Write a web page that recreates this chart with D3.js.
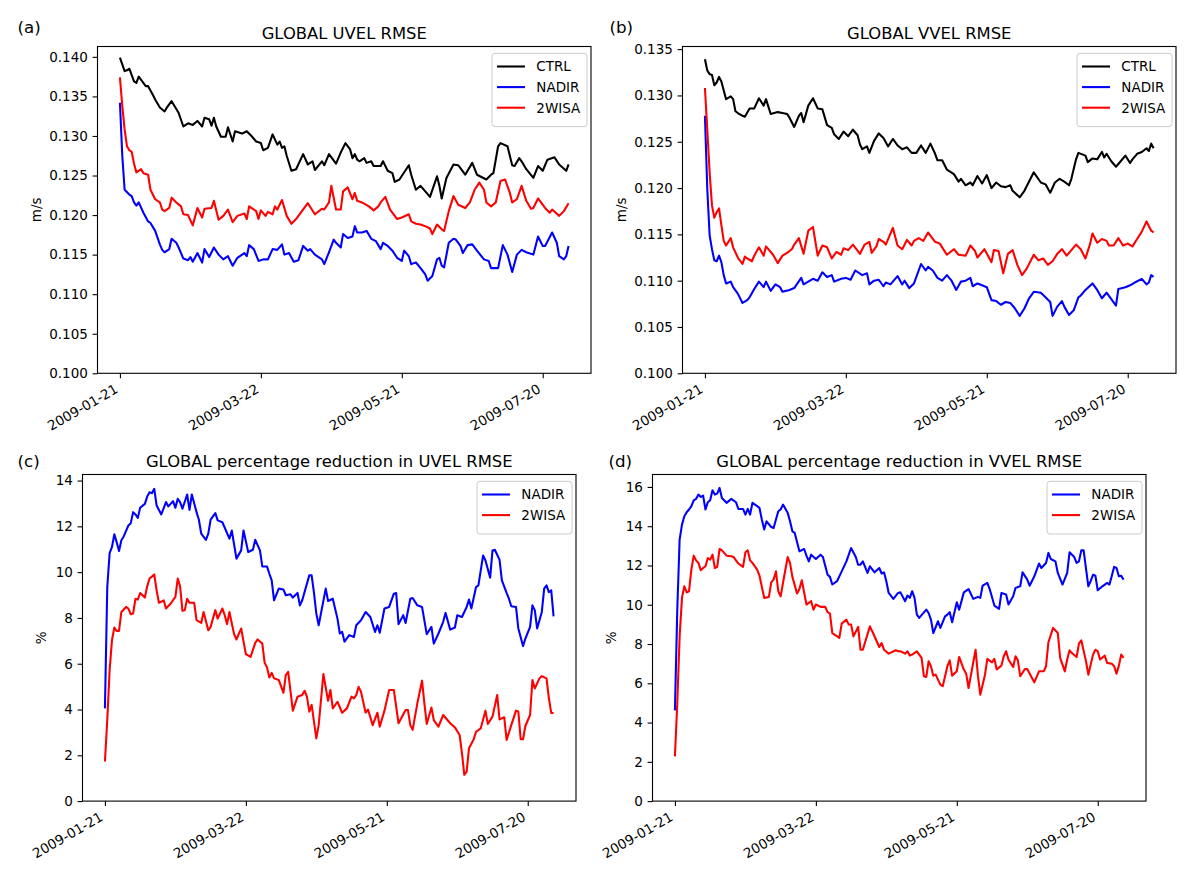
<!DOCTYPE html>
<html>
<head>
<meta charset="utf-8">
<script src="https://cdn.jsdelivr.net/npm/d3@7"></script>
<style>
  body { margin: 0; background: #fff; }
  svg text { font-family: "DejaVu Sans", sans-serif; fill: #000; }
</style>
</head>
<body>
<div id="chart"></div>
<script>
// series are [days after startDate, value]
var startDate = "2009-01-21";
var tickDates = ["2009-01-21", "2009-03-22", "2009-05-21", "2009-07-20"];

var uvelCtrl = [[0,0.1399],[2,0.1382],[3,0.1383],[4,0.1385],[6,0.1369],[7,0.1367],[8,0.1375],[11,0.1363],[12,0.1363],[14,0.1352],[15,0.1346],[17,0.1336],[19,0.1331],[20,0.1336],[22,0.1344],[24,0.1334],[25,0.1329],[27,0.1312],[29,0.1316],[31,0.1314],[33,0.1319],[35,0.1312],[36,0.1323],[38,0.1321],[39,0.1313],[40,0.1323],[41,0.1312],[43,0.1299],[45,0.1299],[46,0.1311],[48,0.1293],[49,0.1306],[52,0.1303],[54,0.1306],[56,0.1300],[58,0.1293],[60,0.1291],[61,0.1282],[63,0.1285],[65,0.1302],[67,0.1289],[68,0.1293],[69,0.1285],[70,0.1287],[71,0.1275],[73,0.1256],[75,0.1258],[78,0.1277],[80,0.1264],[82,0.1268],[83,0.1257],[86,0.1268],[87,0.1263],[89,0.1277],[92,0.1265],[94,0.1279],[96,0.1291],[98,0.1283],[99,0.1272],[100,0.1277],[101,0.1270],[102,0.1268],[104,0.1272],[105,0.1266],[107,0.1268],[108,0.1262],[111,0.1262],[112,0.1268],[114,0.1256],[116,0.1253],[117,0.1242],[119,0.1245],[123,0.1263],[124,0.1251],[126,0.1232],[128,0.1237],[130,0.1230],[132,0.1223],[135,0.1249],[136,0.1237],[137,0.1221],[139,0.1247],[142,0.1264],[144,0.1263],[147,0.1251],[148,0.1256],[150,0.1266],[152,0.1251],[156,0.1245],[158,0.1251],[159,0.1253],[161,0.1287],[162,0.1291],[165,0.1287],[167,0.1263],[168,0.1262],[170,0.1272],[171,0.1268],[173,0.1258],[176,0.1247],[178,0.1262],[180,0.1256],[182,0.1270],[185,0.1273],[187,0.1264],[190,0.1256],[191,0.1264]];

var uvelNadir = [[0,0.1342],[1,0.1275],[2,0.1232],[4,0.1226],[5,0.1224],[6,0.1216],[7,0.1212],[8,0.1216],[10,0.1203],[12,0.1192],[13,0.1190],[15,0.1180],[17,0.1163],[18,0.1156],[19,0.1153],[21,0.1157],[22,0.1170],[24,0.1165],[25,0.1159],[27,0.1145],[29,0.1143],[30,0.1147],[31,0.1141],[33,0.1152],[35,0.1140],[36,0.1157],[38,0.1147],[40,0.1159],[42,0.1150],[44,0.1144],[46,0.1148],[48,0.1136],[50,0.1146],[53,0.1152],[54,0.1148],[55,0.1162],[57,0.1157],[59,0.1142],[61,0.1144],[63,0.1144],[65,0.1157],[67,0.1156],[69,0.1163],[70,0.1150],[72,0.1152],[74,0.1141],[76,0.1143],[78,0.1161],[80,0.1155],[81,0.1157],[83,0.1150],[86,0.1144],[87,0.1138],[89,0.1153],[91,0.1169],[92,0.1165],[94,0.1159],[95,0.1176],[97,0.1171],[99,0.1173],[100,0.1186],[101,0.1178],[103,0.1178],[105,0.1180],[107,0.1170],[109,0.1167],[111,0.1157],[112,0.1165],[114,0.1161],[116,0.1155],[118,0.1146],[120,0.1142],[121,0.1155],[123,0.1148],[124,0.1138],[126,0.1140],[128,0.1133],[130,0.1125],[131,0.1117],[133,0.1123],[135,0.1144],[136,0.1146],[137,0.1136],[138,0.1134],[140,0.1165],[142,0.1170],[143,0.1169],[145,0.1161],[146,0.1152],[148,0.1162],[150,0.1163],[152,0.1155],[155,0.1144],[157,0.1142],[158,0.1133],[161,0.1133],[163,0.1162],[165,0.1150],[167,0.1128],[169,0.1150],[171,0.1156],[173,0.1153],[176,0.1150],[178,0.1173],[180,0.1161],[181,0.1161],[184,0.1178],[186,0.1165],[187,0.1148],[189,0.1144],[190,0.1148],[191,0.1161]];

var uvel2wisa = [[0,0.1374],[1,0.1338],[2,0.1308],[3,0.1287],[4,0.1282],[5,0.1280],[6,0.1265],[7,0.1254],[9,0.1258],[10,0.1253],[12,0.1251],[13,0.1232],[15,0.1220],[17,0.1216],[18,0.1207],[19,0.1205],[21,0.1209],[22,0.1222],[24,0.1216],[26,0.1211],[27,0.1201],[29,0.1200],[31,0.1187],[33,0.1209],[35,0.1197],[36,0.1208],[39,0.1209],[40,0.1218],[42,0.1194],[44,0.1199],[46,0.1207],[48,0.1191],[50,0.1199],[53,0.1202],[54,0.1195],[55,0.1211],[58,0.1205],[59,0.1195],[60,0.1206],[62,0.1199],[63,0.1204],[65,0.1201],[66,0.1211],[67,0.1207],[69,0.1219],[71,0.1199],[73,0.1189],[75,0.1195],[77,0.1203],[80,0.1215],[83,0.1201],[86,0.1208],[87,0.1207],[89,0.1216],[90,0.1237],[92,0.1207],[94,0.1207],[95,0.1230],[97,0.1235],[99,0.1220],[100,0.1228],[101,0.1218],[103,0.1216],[106,0.1211],[108,0.1206],[110,0.1211],[111,0.1216],[113,0.1223],[115,0.1207],[117,0.1199],[118,0.1195],[120,0.1197],[123,0.1201],[124,0.1192],[126,0.1189],[128,0.1188],[130,0.1186],[132,0.1183],[133,0.1176],[135,0.1188],[137,0.1182],[138,0.1180],[140,0.1205],[142,0.1224],[144,0.1213],[147,0.1209],[149,0.1216],[151,0.1232],[153,0.1241],[155,0.1232],[156,0.1216],[158,0.1211],[160,0.1216],[162,0.1243],[164,0.1245],[166,0.1228],[167,0.1216],[169,0.1220],[171,0.1237],[173,0.1218],[175,0.1208],[176,0.1209],[178,0.1221],[181,0.1209],[183,0.1203],[184,0.1207],[187,0.1199],[189,0.1205],[191,0.1215]];

var vvelCtrl = [[0,0.1339],[1,0.1327],[2,0.1323],[3,0.1322],[4,0.1311],[5,0.1314],[6,0.1320],[7,0.1315],[9,0.1296],[11,0.1299],[12,0.1296],[13,0.1283],[14,0.1281],[16,0.1278],[17,0.1277],[19,0.1286],[21,0.1286],[23,0.1297],[25,0.1289],[26,0.1296],[28,0.1280],[31,0.1282],[33,0.1281],[35,0.1280],[36,0.1276],[38,0.1266],[40,0.1278],[41,0.1281],[42,0.1271],[44,0.1289],[46,0.1297],[48,0.1286],[50,0.1285],[52,0.1268],[54,0.1265],[55,0.1258],[57,0.1253],[59,0.1261],[61,0.1256],[63,0.1263],[65,0.1257],[66,0.1247],[67,0.1242],[69,0.1245],[70,0.1238],[72,0.1251],[74,0.1259],[76,0.1254],[78,0.1245],[80,0.1253],[82,0.1246],[84,0.1242],[86,0.1244],[88,0.1238],[90,0.1238],[92,0.1246],[94,0.1238],[96,0.1248],[98,0.1237],[99,0.1230],[101,0.1230],[103,0.1220],[106,0.1215],[108,0.1207],[109,0.1210],[111,0.1203],[113,0.1206],[114,0.1203],[116,0.1213],[118,0.1205],[120,0.1214],[122,0.1200],[124,0.1206],[126,0.1202],[128,0.1201],[130,0.1203],[131,0.1197],[134,0.1190],[136,0.1197],[138,0.1207],[140,0.1217],[143,0.1206],[145,0.1204],[147,0.1195],[149,0.1206],[151,0.1210],[153,0.1207],[155,0.1203],[156,0.1210],[158,0.1231],[159,0.1238],[162,0.1235],[163,0.1228],[165,0.1232],[167,0.1231],[169,0.1239],[170,0.1233],[171,0.1237],[173,0.1229],[175,0.1223],[177,0.1229],[179,0.1235],[181,0.1227],[182,0.1231],[184,0.1237],[186,0.1239],[188,0.1243],[189,0.1240],[190,0.1248],[191,0.1243]];

var vvelNadir = [[0,0.1278],[1,0.1199],[2,0.1149],[3,0.1134],[4,0.1122],[5,0.1121],[6,0.1127],[7,0.1120],[8,0.1106],[9,0.1097],[11,0.1099],[12,0.1093],[14,0.1086],[16,0.1076],[18,0.1079],[19,0.1082],[21,0.1091],[23,0.1099],[25,0.1093],[26,0.1099],[28,0.1089],[30,0.1096],[32,0.1093],[33,0.1088],[36,0.1090],[38,0.1092],[41,0.1103],[42,0.1096],[44,0.1099],[46,0.1102],[48,0.1100],[50,0.1109],[52,0.1104],[54,0.1106],[55,0.1099],[58,0.1102],[60,0.1103],[62,0.1101],[64,0.1111],[67,0.1106],[69,0.1108],[70,0.1096],[72,0.1100],[74,0.1101],[76,0.1094],[77,0.1098],[79,0.1096],[82,0.1105],[84,0.1096],[85,0.1100],[87,0.1092],[89,0.1097],[92,0.1118],[94,0.1111],[95,0.1115],[97,0.1111],[99,0.1103],[101,0.1100],[103,0.1106],[105,0.1100],[107,0.1090],[109,0.1099],[111,0.1100],[113,0.1103],[114,0.1094],[116,0.1097],[118,0.1095],[120,0.1093],[122,0.1079],[124,0.1078],[126,0.1074],[128,0.1077],[130,0.1076],[132,0.1070],[134,0.1062],[136,0.1070],[138,0.1081],[140,0.1088],[143,0.1087],[145,0.1082],[147,0.1077],[148,0.1062],[150,0.1072],[152,0.1078],[153,0.1072],[155,0.1063],[157,0.1068],[159,0.1082],[160,0.1084],[162,0.1090],[165,0.1097],[167,0.1090],[169,0.1081],[171,0.1087],[173,0.1080],[175,0.1073],[176,0.1091],[179,0.1093],[181,0.1095],[183,0.1098],[186,0.1102],[188,0.1096],[189,0.1098],[190,0.1106],[191,0.1104]];

var vvel2wisa = [[0,0.1308],[1,0.1263],[2,0.1217],[3,0.1181],[4,0.1168],[5,0.1174],[6,0.1178],[7,0.1160],[8,0.1143],[9,0.1138],[11,0.1146],[12,0.1136],[14,0.1125],[16,0.1118],[17,0.1126],[18,0.1124],[20,0.1121],[21,0.1127],[23,0.1136],[25,0.1127],[26,0.1137],[27,0.1134],[29,0.1128],[31,0.1119],[33,0.1127],[35,0.1130],[37,0.1134],[38,0.1139],[40,0.1146],[42,0.1129],[44,0.1154],[46,0.1158],[48,0.1127],[50,0.1138],[52,0.1136],[54,0.1124],[56,0.1131],[58,0.1128],[59,0.1135],[61,0.1133],[63,0.1139],[66,0.1129],[68,0.1139],[70,0.1142],[71,0.1130],[73,0.1137],[74,0.1145],[76,0.1142],[77,0.1139],[80,0.1157],[82,0.1138],[84,0.1134],[86,0.1144],[88,0.1138],[89,0.1143],[91,0.1146],[93,0.1143],[95,0.1152],[98,0.1142],[100,0.1140],[101,0.1136],[103,0.1128],[106,0.1134],[108,0.1128],[111,0.1127],[113,0.1138],[115,0.1132],[116,0.1125],[119,0.1134],[122,0.1120],[123,0.1133],[125,0.1132],[127,0.1108],[129,0.1129],[131,0.1133],[133,0.1117],[135,0.1106],[137,0.1113],[140,0.1128],[142,0.1122],[144,0.1124],[146,0.1117],[148,0.1121],[150,0.1129],[152,0.1134],[154,0.1127],[157,0.1136],[158,0.1139],[160,0.1134],[162,0.1124],[164,0.1140],[165,0.1151],[167,0.1141],[169,0.1145],[171,0.1143],[172,0.1138],[174,0.1138],[176,0.1146],[178,0.1138],[180,0.1140],[182,0.1137],[184,0.1145],[186,0.1153],[188,0.1164],[190,0.1154],[191,0.1152]];

var pctUNadir = [[0,4.05],[1,9.35],[2,10.83],[3,11.10],[4,11.65],[5,11.31],[6,10.92],[7,11.39],[8,11.56],[10,12.04],[11,12.14],[12,12.62],[13,12.52],[14,12.37],[15,12.81],[17,12.98],[18,13.30],[19,13.49],[20,13.45],[21,13.64],[22,12.91],[24,12.52],[26,13.06],[27,12.87],[29,13.10],[30,12.81],[31,13.20],[32,13.06],[33,12.77],[35,13.39],[36,12.72],[37,13.39],[39,12.62],[40,12.29],[41,11.68],[43,11.41],[44,11.68],[45,12.29],[47,12.58],[48,12.26],[50,12.18],[53,11.46],[54,11.82],[56,10.59],[58,10.95],[59,11.82],[61,10.88],[63,10.98],[64,11.41],[66,10.95],[67,10.25],[69,10.25],[70,9.93],[71,9.64],[72,8.77],[74,9.28],[76,9.24],[77,8.99],[79,9.03],[80,8.89],[82,9.09],[83,8.55],[84,8.77],[87,9.86],[88,9.86],[89,9.09],[90,8.19],[91,7.68],[94,9.28],[95,8.74],[97,8.84],[99,7.97],[100,7.32],[101,7.39],[102,6.96],[104,7.25],[106,7.17],[107,7.68],[109,7.90],[111,8.26],[113,8.04],[115,7.39],[116,7.68],[117,7.35],[119,8.41],[121,8.48],[123,9.06],[124,9.09],[125,7.73],[127,8.12],[128,7.78],[130,8.84],[131,8.87],[133,8.55],[135,8.48],[137,7.29],[139,7.61],[140,6.88],[142,7.32],[144,7.83],[145,8.22],[147,7.49],[149,7.58],[150,8.12],[152,8.04],[154,8.48],[155,8.80],[156,8.41],[158,9.35],[159,9.42],[161,10.73],[162,10.51],[164,9.76],[165,10.95],[166,10.98],[168,10.54],[169,9.64],[171,9.09],[172,8.84],[173,8.51],[175,8.48],[176,7.54],[178,6.77],[179,7.10],[181,7.61],[182,8.55],[183,8.34],[184,7.54],[186,8.26],[187,9.28],[188,9.42],[189,9.13],[190,9.21],[191,8.07]];

var pctU2wisa = [[0,1.73],[1,3.54],[2,5.72],[3,7.03],[4,7.58],[5,7.43],[6,7.43],[7,8.26],[9,8.48],[10,8.41],[11,8.16],[12,8.19],[13,8.84],[14,8.80],[15,9.09],[17,8.89],[18,9.38],[19,9.72],[21,9.90],[22,9.21],[23,8.66],[25,8.77],[26,8.41],[28,8.63],[30,8.92],[31,9.72],[32,9.38],[33,8.31],[34,8.34],[35,8.84],[36,8.66],[38,8.66],[39,7.90],[41,7.78],[42,8.26],[44,7.46],[45,7.61],[47,8.34],[48,7.97],[50,8.41],[51,8.12],[52,7.73],[53,8.26],[55,7.29],[56,7.06],[58,7.54],[60,6.42],[62,6.30],[64,6.91],[65,7.06],[67,6.88],[68,6.04],[69,5.84],[70,5.40],[71,5.60],[72,5.36],[74,5.29],[76,4.73],[77,5.50],[78,5.65],[80,3.95],[82,4.56],[84,4.63],[85,4.82],[86,4.56],[87,3.91],[88,4.20],[90,2.74],[91,3.32],[93,5.55],[95,4.38],[96,4.85],[97,4.05],[99,4.34],[101,3.86],[103,4.05],[105,4.56],[106,4.49],[107,4.63],[108,4.99],[109,4.78],[111,3.86],[112,4.00],[114,3.32],[116,3.86],[117,3.25],[119,3.95],[121,4.85],[123,4.85],[125,3.40],[128,3.98],[129,3.98],[130,3.32],[131,3.11],[133,4.27],[135,5.26],[136,4.27],[137,3.37],[139,4.09],[140,3.54],[142,3.25],[144,3.76],[147,3.40],[149,3.22],[151,2.89],[152,2.09],[153,1.15],[154,1.29],[155,2.31],[157,2.70],[158,3.03],[160,3.18],[162,3.95],[163,3.37],[165,3.69],[167,4.63],[168,3.57],[170,3.66],[171,2.67],[173,3.32],[175,3.95],[176,3.91],[177,2.70],[178,2.70],[179,3.28],[181,3.76],[182,5.29],[183,4.92],[185,5.36],[186,5.46],[188,5.36],[189,4.50],[190,3.85],[191,3.85]];

var pctVNadir = [[0,4.62],[1,9.75],[2,13.32],[3,14.08],[4,14.51],[5,14.71],[6,14.85],[7,15.02],[8,15.32],[9,15.39],[10,15.61],[11,15.49],[12,15.56],[13,14.85],[14,15.22],[15,15.32],[16,15.83],[17,15.61],[18,15.66],[19,15.95],[20,15.44],[22,15.19],[24,15.39],[26,15.22],[27,14.88],[29,14.88],[30,14.59],[31,14.88],[32,14.59],[33,15.19],[35,15.02],[36,14.93],[37,14.34],[38,13.83],[39,14.25],[41,13.96],[42,13.91],[44,14.76],[45,14.85],[46,15.10],[48,14.68],[49,14.25],[50,13.74],[51,13.66],[53,12.72],[55,12.84],[56,12.50],[57,12.21],[58,12.55],[60,12.33],[62,12.55],[63,12.43],[65,11.53],[66,11.42],[67,11.03],[69,11.20],[71,11.70],[73,12.21],[75,12.89],[77,12.43],[78,12.04],[79,12.04],[80,12.21],[82,11.62],[83,11.96],[85,11.65],[87,11.87],[88,11.59],[89,11.65],[90,11.20],[91,10.60],[93,10.30],[95,10.60],[96,10.63],[98,10.18],[99,10.47],[100,10.35],[101,10.69],[102,10.35],[103,9.50],[104,9.33],[107,9.75],[108,9.58],[109,9.24],[110,8.56],[112,9.16],[113,8.82],[115,9.41],[116,9.50],[117,9.62],[118,9.11],[120,10.13],[121,9.75],[123,10.63],[125,10.80],[127,10.30],[129,10.40],[130,10.35],[131,10.97],[133,11.11],[134,10.80],[136,9.96],[138,9.79],[139,10.60],[141,10.52],[142,10.01],[144,10.43],[145,10.86],[147,10.94],[148,11.65],[150,11.28],[151,10.97],[153,11.45],[155,12.10],[156,11.87],[158,12.13],[159,12.64],[160,12.33],[162,12.21],[163,11.62],[165,11.03],[167,11.62],[168,12.67],[170,12.43],[171,12.13],[172,12.21],[173,12.77],[174,12.77],[176,10.94],[177,11.20],[178,11.53],[179,11.48],[180,10.74],[182,10.94],[184,11.11],[185,11.03],[186,11.48],[187,11.93],[188,11.87],[189,11.45],[190,11.48],[191,11.28]];

var pctV2wisa = [[0,2.28],[1,5.00],[2,8.39],[3,10.35],[4,10.94],[5,10.63],[6,10.69],[7,11.79],[8,12.50],[9,12.26],[10,12.13],[11,11.76],[12,11.87],[13,11.96],[14,12.38],[15,12.30],[16,12.55],[17,11.87],[18,11.93],[19,12.84],[20,12.77],[22,12.50],[24,12.47],[25,12.43],[27,12.10],[29,11.93],[30,12.67],[31,12.77],[32,12.26],[33,12.13],[35,11.79],[36,11.48],[38,10.35],[40,10.40],[41,11.14],[42,11.28],[43,11.70],[44,10.69],[45,10.43],[46,11.11],[48,12.43],[49,12.13],[50,11.42],[52,10.57],[53,10.80],[54,11.25],[56,10.01],[58,10.18],[59,9.75],[60,10.01],[62,9.89],[64,9.89],[65,9.62],[66,9.55],[67,8.56],[70,8.31],[71,9.04],[73,9.24],[74,8.99],[75,8.99],[76,8.39],[78,8.87],[79,7.71],[80,7.71],[83,8.90],[84,8.65],[87,7.85],[88,8.05],[89,7.71],[91,7.51],[94,7.68],[95,7.63],[96,7.63],[98,7.51],[99,7.63],[100,7.41],[101,7.46],[103,7.63],[105,7.29],[106,6.36],[107,6.32],[108,7.12],[109,6.87],[110,6.39],[111,6.44],[113,5.93],[114,5.85],[116,6.87],[117,7.17],[118,6.39],[120,6.61],[121,7.34],[123,6.70],[124,6.49],[125,5.76],[128,7.71],[129,6.39],[130,5.42],[132,6.44],[133,7.24],[135,7.07],[136,7.24],[137,6.70],[139,6.90],[140,7.38],[141,7.63],[142,7.21],[144,6.83],[145,7.38],[146,7.17],[147,6.36],[149,6.73],[150,6.73],[152,6.27],[153,6.05],[155,6.61],[157,6.61],[158,6.87],[159,8.09],[161,8.82],[163,8.56],[164,7.29],[166,6.61],[167,7.21],[168,7.68],[169,7.54],[171,7.34],[172,8.02],[173,8.19],[175,7.12],[176,6.44],[178,7.46],[179,7.71],[180,7.63],[181,7.21],[183,7.41],[184,7.04],[186,7.00],[187,6.87],[188,6.49],[189,6.90],[190,7.46],[191,7.29]];

var rmseTicks = [0.100, 0.105, 0.110, 0.115, 0.120, 0.125, 0.130, 0.135, 0.140];
var rmseTicksV = [0.100, 0.105, 0.110, 0.115, 0.120, 0.125, 0.130, 0.135];
var pctTicksU = [0, 2, 4, 6, 8, 10, 12, 14];
var pctTicksV = [0, 2, 4, 6, 8, 10, 12, 14, 16];

var width = 1198, height = 880;
var parseDay = d3.utcParse("%Y-%m-%d");
var day0 = parseDay(startDate);
function toDate(d) { return new Date(day0.getTime() + d * 864e5); }

var svg = d3.select("#chart").append("svg")
    .attr("width", width)
    .attr("height", height);

function drawPanel(p) {
    var g = svg.append("g").attr("transform", "translate(" + p.left + "," + p.top + ")");
    var w = p.width, h = p.height;

    // matplotlib style 5% margins on x, and on the y top
    var all = [];
    p.series.forEach(function (s) { all = all.concat(s.data); });
    var dx = d3.extent(all, function (d) { return d[0]; });
    var padX = (dx[1] - dx[0]) * 0.05;
    var vy = d3.extent(all, function (d) { return d[1]; });
    var yTop = vy[1] + (vy[1] - vy[0]) * 0.05;

    var x = d3.scaleUtc().domain([toDate(dx[0] - padX), toDate(dx[1] + padX)]).range([0, w]);
    var y = d3.scaleLinear().domain([p.yMin, yTop]).range([h, 0]);

    var line = d3.line()
        .x(function (d) { return x(toDate(d[0])); })
        .y(function (d) { return y(d[1]); });

    p.series.forEach(function (s) {
        g.append("path")
            .datum(s.data)
            .attr("fill", "none")
            .attr("stroke", s.color)
            .attr("stroke-width", 2.08)
            .attr("stroke-linejoin", "round")
            .attr("d", line);
    });

    // axes
    var yAxis = g.append("g")
        .call(d3.axisLeft(y).tickValues(p.yTicks).tickSize(4.9).tickSizeOuter(0).tickPadding(4.8).tickFormat(p.yFormat));
    var xAxis = g.append("g")
        .attr("transform", "translate(0," + h + ")")
        .call(d3.axisBottom(x).tickValues(tickDates.map(parseDay)).tickSize(4.9).tickSizeOuter(0)
            .tickFormat(d3.utcFormat("%Y-%m-%d")));
    [xAxis, yAxis].forEach(function (a) {
        a.select(".domain").remove();
        a.selectAll(".tick line").attr("stroke", "#000").attr("stroke-width", 1.1);
        a.selectAll("text").attr("font-size", 13.5).attr("font-family", "DejaVu Sans").attr("fill", "#000");
    });
    xAxis.selectAll("text")
        .attr("x", 0).attr("y", 0).attr("dy", 0)
        .attr("text-anchor", "end")
        .attr("transform", "translate(-1.5,18.5) rotate(-30)");

    g.append("rect")
        .attr("width", w).attr("height", h)
        .attr("fill", "none").attr("stroke", "#000").attr("stroke-width", 1.1);

    // titles and labels
    g.append("text")
        .attr("x", w / 2).attr("y", -8)
        .attr("text-anchor", "middle")
        .attr("font-size", 16.4)
        .text(p.title);
    g.append("text")
        .attr("transform", "translate(" + p.yLabelX + "," + (h / 2) + ") rotate(-90)")
        .attr("text-anchor", "middle")
        .attr("font-size", 13.5)
        .text(p.yLabel);
    svg.append("text")
        .attr("x", p.tagX).attr("y", p.tagY)
        .attr("font-size", 16.7)
        .text(p.tag);

    // legend
    var rowH = 20.6;
    var lw = 95, lh = 11 + rowH * p.series.length + 0.5;
    var leg = g.append("g").attr("transform", "translate(" + (w - 4 - lw) + ",6.8)");
    leg.append("rect")
        .attr("width", lw).attr("height", lh).attr("rx", 3)
        .attr("fill", "#fff").attr("fill-opacity", 0.8)
        .attr("stroke", "#cccccc").attr("stroke-width", 1);
    p.series.forEach(function (s, i) {
        var cy = 13.2 + i * rowH;
        leg.append("line")
            .attr("x1", 5).attr("x2", 33)
            .attr("y1", cy).attr("y2", cy)
            .attr("stroke", s.color).attr("stroke-width", 2.08);
        leg.append("text")
            .attr("x", 44.3).attr("y", cy + 4.9)
            .attr("font-size", 13.5)
            .text(s.name);
    });
}

var fmt3 = d3.format(".3f");
var fmt0 = d3.format("d");

drawPanel({ left: 97.5, top: 46.5, width: 493.5, height: 326.8, yMin: 0.1, yTicks: rmseTicks, yFormat: fmt3,
    title: "GLOBAL UVEL RMSE", yLabel: "m/s", yLabelX: -56.5, tag: "(a)", tagX: 17.5, tagY: 32.5,
    series: [{ name: "CTRL", color: "#000000", data: uvelCtrl },
             { name: "NADIR", color: "#0000ff", data: uvelNadir },
             { name: "2WISA", color: "#ff0000", data: uvel2wisa }] });

drawPanel({ left: 682.5, top: 46.5, width: 493.5, height: 326.8, yMin: 0.1, yTicks: rmseTicksV, yFormat: fmt3,
    title: "GLOBAL VVEL RMSE", yLabel: "m/s", yLabelX: -56.5, tag: "(b)", tagX: 609.5, tagY: 32.5,
    series: [{ name: "CTRL", color: "#000000", data: vvelCtrl },
             { name: "NADIR", color: "#0000ff", data: vvelNadir },
             { name: "2WISA", color: "#ff0000", data: vvel2wisa }] });

drawPanel({ left: 82.5, top: 474.5, width: 493.5, height: 326.6, yMin: 0, yTicks: pctTicksU, yFormat: fmt0,
    title: "GLOBAL percentage reduction in UVEL RMSE", yLabel: "%", yLabelX: -36.5, tag: "(c)", tagX: 17.5, tagY: 466.5,
    series: [{ name: "NADIR", color: "#0000ff", data: pctUNadir },
             { name: "2WISA", color: "#ff0000", data: pctU2wisa }] });

drawPanel({ left: 652.5, top: 474.5, width: 493.5, height: 326.6, yMin: 0, yTicks: pctTicksV, yFormat: fmt0,
    title: "GLOBAL percentage reduction in VVEL RMSE", yLabel: "%", yLabelX: -36.5, tag: "(d)", tagX: 608.5, tagY: 466.5,
    series: [{ name: "NADIR", color: "#0000ff", data: pctVNadir },
             { name: "2WISA", color: "#ff0000", data: pctV2wisa }] });
</script>
</body>
</html>
